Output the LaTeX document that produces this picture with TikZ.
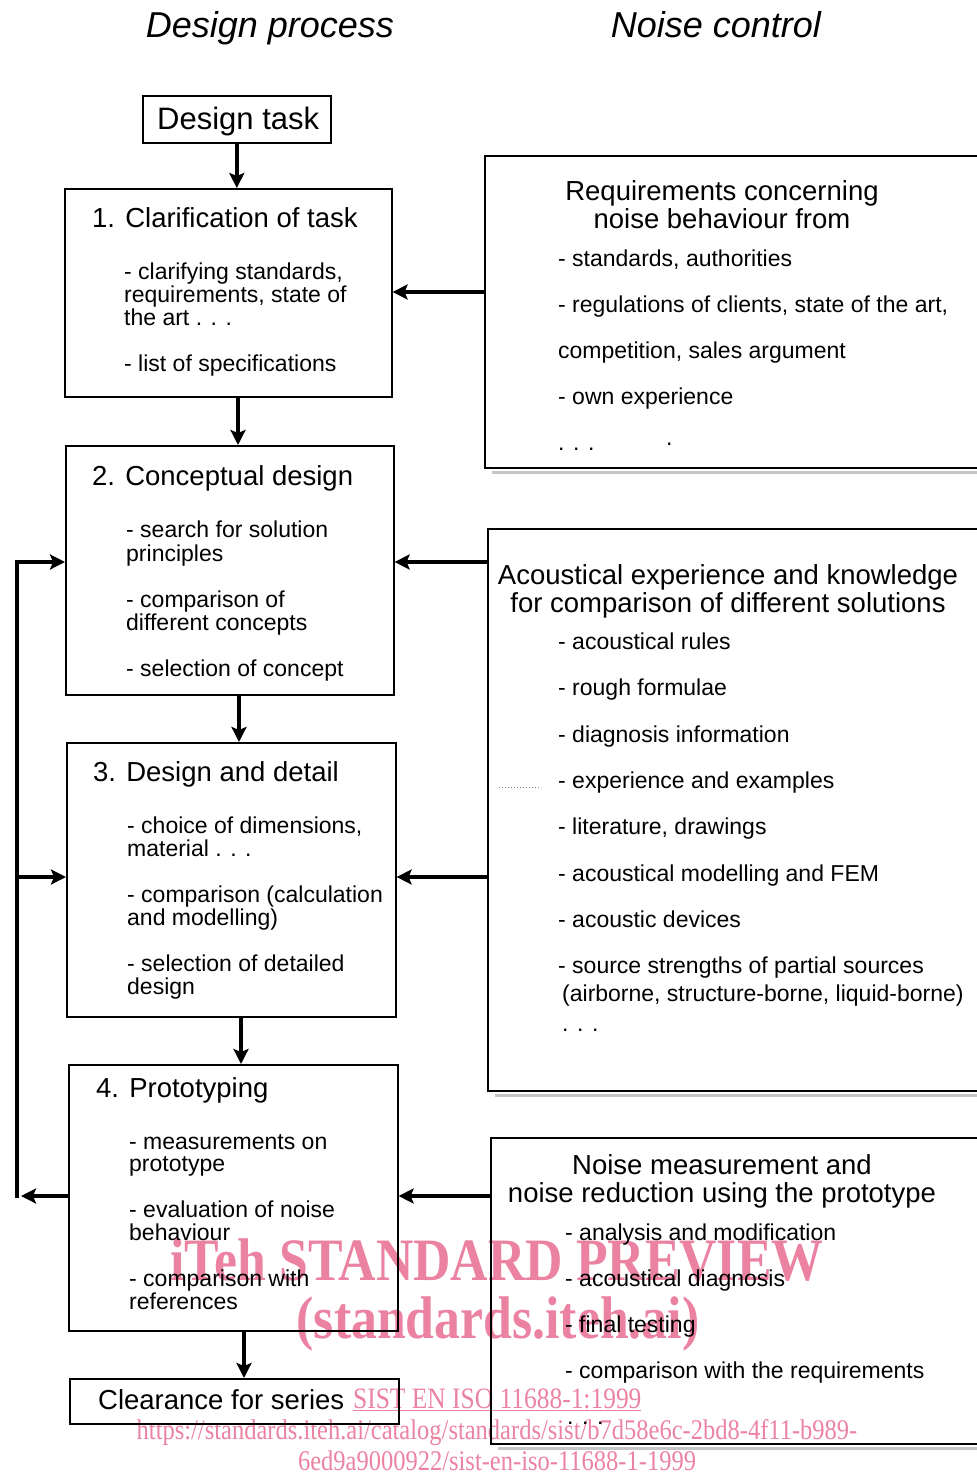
\documentclass[tikz,border=0pt]{standalone}
\usepackage{fontspec}
\setmainfont{Liberation Sans}
\newfontfamily\wmfont[FakeStretch=0.86]{Liberation Serif}
\usetikzlibrary{arrows.meta}
\definecolor{wmpink}{RGB}{235,130,162}
\begin{document}
\begin{tikzpicture}[x=1pt,y=-1pt,
  box/.style={draw, line width=1.6pt, inner sep=0pt, anchor=north west},
  arr/.style={line width=3.8pt, -{Stealth[length=15pt,width=15pt,inset=3pt]}},
  loopline/.style={line width=4pt},
  ttl/.style={font=\fontsize{27.5}{30}\selectfont, inner sep=0pt, anchor=base west},
  itm/.style={font=\fontsize{23}{25}\selectfont, inner sep=0pt, anchor=base west},
  head/.style={font=\fontsize{36}{40}\selectfont\itshape, inner sep=0pt, anchor=base},
  wmbig/.style={font=\wmfont\bfseries\fontsize{60.2}{63}\selectfont, text=wmpink, inner sep=0pt, anchor=base},
  wmsmall/.style={font=\wmfont\fontsize{28.5}{30}\selectfont, text=wmpink, inner sep=0pt, anchor=base},
  wmref/.style={font=\wmfont\fontsize{29.6}{31}\selectfont, text=wmpink, inner sep=0pt, anchor=base west},
  scan/.style={gray!45, line width=2.5pt}
]
\useasboundingbox (0,0) rectangle (977,1475);

% watermark (behind)
\node[wmbig] (wm1) at (497,1280) {iTeh STANDARD PREVIEW};
\node[wmbig] (wm2) at (498,1338) {(standards.iteh.ai)};
\node[wmref] (wm3) at (353,1408) {\underline{SIST EN ISO 11688-1:1999}};
\node[wmsmall] (wm4) at (497,1439) {https://standards.iteh.ai/catalog/standards/sist/b7d58e6c-2bd8-4f11-b989-};
\node[wmsmall] (wm5) at (497,1470) {6ed9a9000922/sist-en-iso-11688-1-1999};

% headings
\node[head] (h1) at (270,37) {Design process};
\node[head] (h2) at (716,37) {Noise control};

% left boxes
\node[box, minimum width=188pt, minimum height=47pt] (dt) at (142,95) {};
\node[box, minimum width=327pt, minimum height=208pt] (b1) at (64,188) {};
\node[box, minimum width=328pt, minimum height=249pt] (b2) at (65,445) {};
\node[box, minimum width=329pt, minimum height=274pt] (b3) at (66,742) {};
\node[box, minimum width=329pt, minimum height=266pt] (b4) at (68,1064) {};
\node[box, minimum width=329pt, minimum height=45pt] (cl) at (69,1378) {};

% right boxes
\node[box, minimum width=520pt, minimum height=312pt] (r1) at (484,155) {};
\node[box, minimum width=520pt, minimum height=562pt] (r2) at (487,528) {};
\node[box, minimum width=520pt, minimum height=306pt] (r3) at (490,1137) {};

% scan shadows under right boxes
\draw[scan] ([xshift=8pt,yshift=-4pt]r1.south west) -- ([yshift=-4pt]r1.south east);
\draw[scan] ([xshift=8pt,yshift=-4pt]r2.south west) -- ([yshift=-4pt]r2.south east);
\draw[scan] ([xshift=8pt,yshift=-4pt]r3.south west) -- ([yshift=-4pt]r3.south east);

% texts left
\node[font=\fontsize{31}{34}\selectfont, inner sep=0pt, anchor=base west] (dtt) at (157,129) {Design task};

\node[ttl] (t1) at (92,227) {1. Clarification of task};
\foreach \t/\yy [count=\i] in {{- clarifying standards,}/279, {requirements, state of}/302, {the art . . .}/325, {- list of specifications}/371}
  \node[itm] (b1l\i) at (124,\yy) {\t};

\node[ttl] (t2) at (92,485) {2. Conceptual design};
\foreach \t/\yy [count=\i] in {{- search for solution}/537, {principles}/561, {- comparison of}/607, {different concepts}/630, {- selection of concept}/676}
  \node[itm] (b2l\i) at (126,\yy) {\t};

\node[ttl] (t3) at (93,781) {3. Design and detail};
\foreach \t/\yy [count=\i] in {{- choice of dimensions,}/833, {material . . .}/856, {- comparison (calculation}/902, {and modelling)}/925, {- selection of detailed}/971, {design}/994}
  \node[itm] (b3l\i) at (127,\yy) {\t};

\node[ttl] (t4) at (96,1097) {4. Prototyping};
\foreach \t/\yy [count=\i] in {{- measurements on}/1149, {prototype}/1171, {- evaluation of noise}/1217, {behaviour}/1240, {- comparison with}/1286, {references}/1309}
  \node[itm] (b4l\i) at (129,\yy) {\t};

\node[ttl] (tcl) at (98,1409) {Clearance for series};

% texts right
\node[ttl, anchor=base] (rt1a) at (722,200) {Requirements concerning};
\node[ttl, anchor=base] (rt1b) at (722,228) {noise behaviour from};
\foreach \t/\yy [count=\i] in {{- standards, authorities}/266, {- regulations of clients, state of the art,}/312, {competition, sales argument}/358, {- own experience}/404, {. . .}/450}
  \node[itm] (r1l\i) at (558,\yy) {\t};
\node[itm] (r1dot) at (666,445) {.};

\node[ttl, anchor=base] (rt2a) at (728,584) {Acoustical experience and knowledge};
\node[ttl, anchor=base] (rt2b) at (728,612) {for comparison of different solutions};
\foreach \t/\yy [count=\i] in {{- acoustical rules}/649, {- rough formulae}/695, {- diagnosis information}/742, {- experience and examples}/788, {- literature, drawings}/834, {- acoustical modelling and FEM}/881, {- acoustic devices}/927, {- source strengths of partial sources}/973}
  \node[itm] (r2l\i) at (558,\yy) {\t};
\node[itm] (r2l9) at (562,1001) {(airborne, structure-borne, liquid-borne)};
\node[itm] (r2l10) at (562,1031) {. . .};
\draw[gray, line width=1pt, dotted] ([xshift=12pt]r2.west |- 0,787) -- ([xshift=54pt]r2.west |- 0,787);

\node[ttl, anchor=base] (rt3a) at (722,1174) {Noise measurement and};
\node[ttl, anchor=base] (rt3b) at (722,1202) {noise reduction using the prototype};
\foreach \t/\yy [count=\i] in {{- analysis and modification}/1240, {- acoustical diagnosis}/1286, {- final testing}/1332, {- comparison with the requirements}/1378}
  \node[itm] (r3l\i) at (565,\yy) {\t};
\node[itm] (r3l5) at (567,1424) {. . .};

% vertical flow arrows
\draw[arr] (dt.south) -- (dt.south |- b1.north);
\draw[arr] ([xshift=174pt]b1.south west) -- ([xshift=174pt]b1.south west |- b2.north);
\draw[arr] ([xshift=174pt]b2.south west) -- ([xshift=174pt]b2.south west |- b3.north);
\draw[arr] ([xshift=175pt]b3.south west) -- ([xshift=175pt]b3.south west |- b4.north);
\draw[arr] ([xshift=176pt]b4.south west) -- ([xshift=176pt]b4.south west |- cl.north);

% inputs from noise control
\draw[arr] (r1.west |- 0,292) -- (b1.east |- 0,292);
\draw[arr] (r2.west |- 0,562) -- (b2.east |- 0,562);
\draw[arr] (r2.west |- 0,877) -- (b3.east |- 0,877);
\draw[arr] (r3.west |- 0,1196) -- (b4.east |- 0,1196);

% feedback loop
\coordinate (lb) at (17,1196);
\coordinate (lt) at (17,562);
\coordinate (lm) at (17,877);
\draw[arr] (b4.west |- lb) -- ([xshift=4pt]lb);
\draw[loopline, line cap=rect] (lb) -- (lt);
\draw[arr] ([xshift=-2pt]lt) -- (b2.west |- lt);
\draw[arr] (lm) -- (b3.west |- lm);
\end{tikzpicture}
\end{document}
